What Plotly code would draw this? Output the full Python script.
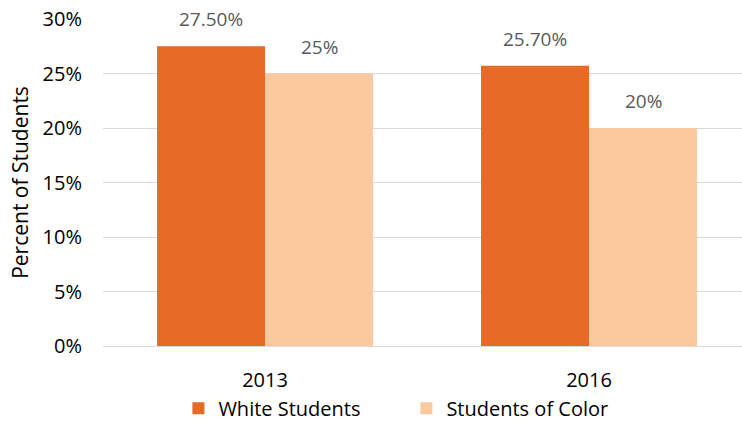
import plotly.graph_objects as go

years = ["2013", "2016"]
white_students = [27.5, 25.7]
students_of_color = [25.0, 20.0]
white_labels = ["27.50%", "25.70%"]
color_labels = ["25%", "20%"]
y_ticks = [0, 5, 10, 15, 20, 25, 30]

FONT = "Open Sans, Liberation Sans, sans-serif"
FS = 20
ORANGE = "#E56B27"
PEACH = "#FBC99E"

fig = go.Figure()
fig.add_trace(go.Bar(name="White Students", x=years, y=white_students,
                     marker_color=ORANGE, marker_line_width=0))
fig.add_trace(go.Bar(name="Students of Color", x=years, y=students_of_color,
                     marker_color=PEACH, marker_line_width=0))

# value labels above each bar
annotations = []
for i in range(len(years)):
    for off, val, lab in ((-1/6, white_students[i], white_labels[i]),
                          (1/6, students_of_color[i], color_labels[i])):
        annotations.append(dict(x=i + off, y=val, xref="x", yref="y", text=lab,
                                showarrow=False, yanchor="bottom", yshift=12,
                                font=dict(family=FONT, size=FS - 1, color="#595959")))

fig.update_layout(
    width=742, height=423,
    margin=dict(l=103, r=0, t=19, b=77, autoexpand=False),
    paper_bgcolor="white", plot_bgcolor="white",
    barmode="group", bargap=1/3, bargroupgap=0,
    font=dict(family=FONT, size=FS, color="#000000"),
    annotations=annotations,
    showlegend=True,
    legend=dict(orientation="h", x=0.118, xanchor="left", xref="paper",
                y=0.035, yanchor="middle", yref="container",
                font=dict(family=FONT, size=FS, color="#000000"),
                entrywidth=183, entrywidthmode="pixels", itemwidth=30),
    xaxis=dict(type="category", range=[-0.5, 1.5 - 9/324], showgrid=False,
               showline=False, ticks="", ticklabelstandoff=20, automargin=False),
    yaxis=dict(range=[0, 30], tickvals=y_ticks,
               ticktext=[f"{v}%" for v in y_ticks],
               showgrid=True, gridcolor="#D9D9D9", gridwidth=1.3,
               zeroline=True, zerolinecolor="#D9D9D9", zerolinewidth=1.3,
               showline=False, ticks="", ticklabelstandoff=20, automargin=False,
               title=dict(text="Percent of Students", standoff=8,
                          font=dict(size=21))),
)

fig.write_html("out.html")
